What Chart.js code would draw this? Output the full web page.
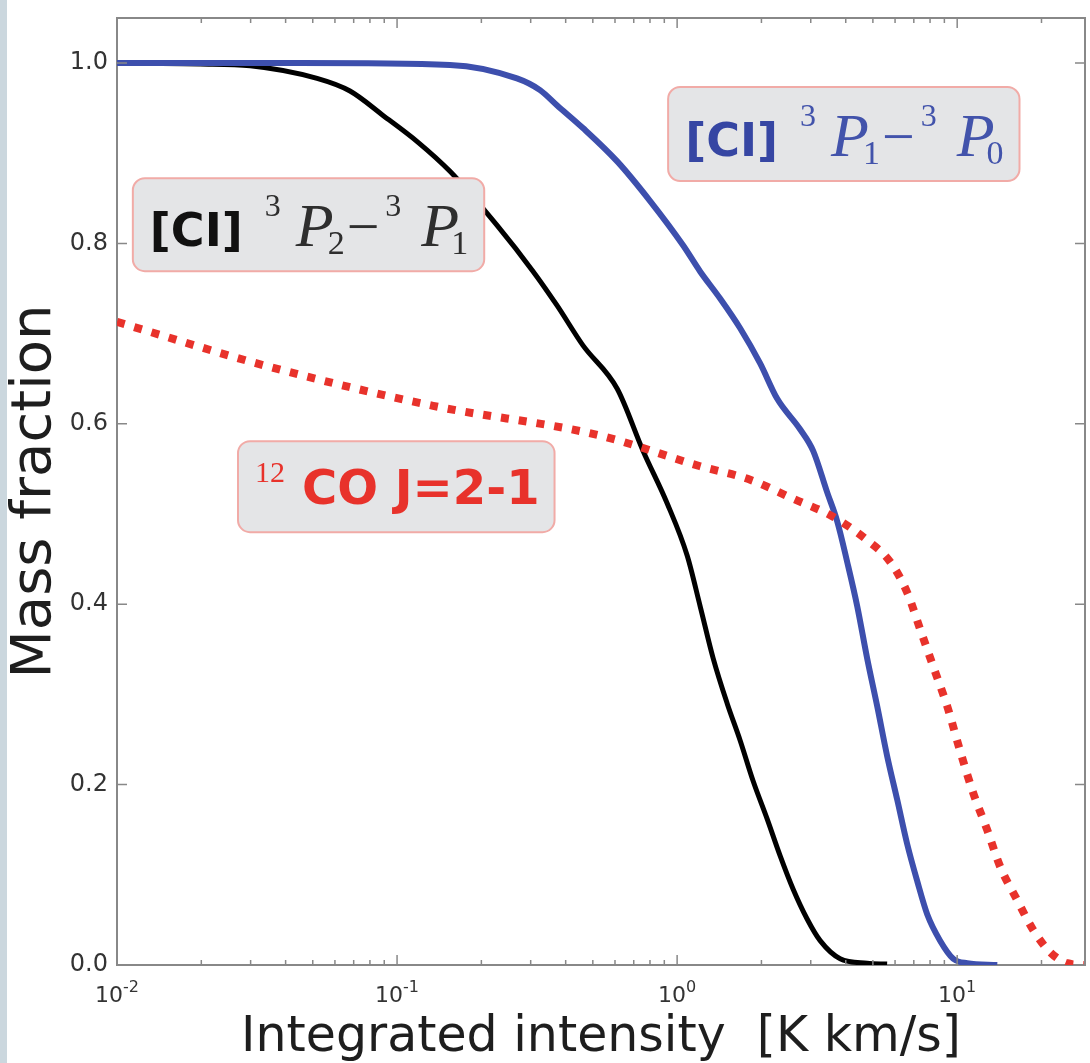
<!DOCTYPE html>
<html>
<head>
<meta charset="utf-8">
<script src="https://cdn.jsdelivr.net/npm/chart.js@4.4.1/dist/chart.umd.min.js"></script>
<style>
  html, body { margin: 0; padding: 0; background: #fff; }
  #wrap { position: relative; width: 1090px; height: 1063px; }
  #strip { position: absolute; left: 0; top: 0; width: 7px; height: 1063px; background: #cbd7de; }
  canvas { position: absolute; left: 0; top: 0; }
</style>
</head>
<body>
<div id="wrap">
  <canvas id="massChart" width="1090" height="1063"></canvas>
  <div id="strip"></div>
</div>
<script>
// [CI] 3P2-3P1 (black)
const ci21X = [0.01, 0.0198, 0.0299, 0.0518, 0.0679, 0.0891, 0.118, 0.1545, 0.2276, 0.306, 0.373, 0.461, 0.611, 0.756, 0.921, 1.086, 1.208, 1.345, 1.509, 1.679, 1.868, 2.096, 2.333, 2.596, 2.912, 3.241, 3.82, 4.77, 5.62];
const ci21Y = [1.0, 0.999, 0.997, 0.983, 0.969, 0.942, 0.913, 0.88, 0.82, 0.769, 0.731, 0.687, 0.639, 0.570, 0.512, 0.454, 0.398, 0.340, 0.290, 0.249, 0.204, 0.162, 0.121, 0.084, 0.051, 0.027, 0.007, 0.002, 0.001];

// [CI] 3P1-3P0 (blue)
const ci10X = [0.01, 0.0451, 0.1545, 0.268, 0.324, 0.373, 0.461, 0.611, 0.801, 1.05, 1.208, 1.424, 1.679, 1.979, 2.275, 2.748, 3.06, 3.434, 3.728, 4.047, 4.395, 4.77, 5.18, 5.62, 6.11, 6.63, 7.20, 7.82, 8.69, 9.68, 10.86, 13.9];
const ci10Y = [1.0, 1.0, 0.998, 0.983, 0.97, 0.953, 0.928, 0.891, 0.847, 0.798, 0.769, 0.739, 0.706, 0.667, 0.628, 0.594, 0.570, 0.524, 0.492, 0.447, 0.398, 0.340, 0.287, 0.232, 0.183, 0.134, 0.093, 0.056, 0.027, 0.007, 0.002, 0.0];

// 12CO J=2-1 (red dotted)
const coX = [0.01, 0.0343, 0.1345, 0.531, 1.208, 1.823, 2.596, 3.606, 4.77, 5.765, 6.63, 7.38, 8.21, 9.21, 10.25, 11.40, 12.79, 14.24, 16.37, 18.67, 21.5, 24.7, 28.5];
const coY = [0.713, 0.664, 0.620, 0.587, 0.553, 0.538, 0.517, 0.497, 0.471, 0.447, 0.413, 0.372, 0.331, 0.287, 0.237, 0.191, 0.150, 0.109, 0.072, 0.039, 0.014, 0.002, 0.0];

const xMajorTicks = [0.01, 0.1, 1, 10];
const xTickBase = ['10', '10', '10', '10'];
const xTickExp = ['-2', '-1', '0', '1'];
const yTicks = [0, 0.2, 0.4, 0.6, 0.8, 1.0];
const yTickLabels = ['0.0', '0.2', '0.4', '0.6', '0.8', '1.0'];

const X_MIN = 0.01, X_MAX = 28.6;
const xMinorTicks = [];
for (let k = -2; k <= 1; k++) {
  for (let m = 2; m <= 9; m++) {
    const v = m * Math.pow(10, k);
    if (v < X_MAX) xMinorTicks.push(v);
  }
}

const BLACK = '#000000', BLUE = '#3d4fad', RED = '#e8322b';
const SANS = "'DejaVu Sans', sans-serif";
const SERIF = "'Liberation Serif', serif";

function pts(xs, ys) { return xs.map((v, i) => ({ x: v, y: ys[i] })); }

// math-style label pieces
function transition(color, boldColor, up, low) {
  return [
    { text: '[CI]', font: 'bold 46px ' + SANS, color: boldColor, gap: 0, dy: 0 },
    { text: '3', font: '32px ' + SERIF, color, gap: 22, dy: -30 },
    { text: 'P', font: 'italic 62px ' + SERIF, color, gap: 15, dy: 0 },
    { text: up, font: '34px ' + SERIF, color, gap: -6, dy: 8 },
    { text: '\u2212', font: '58px ' + SERIF, color, gap: 2, dy: 0 },
    { text: '3', font: '32px ' + SERIF, color, gap: 6, dy: -30 },
    { text: 'P', font: 'italic 62px ' + SERIF, color, gap: 20, dy: 0 },
    { text: low, font: '34px ' + SERIF, color, gap: -8, dy: 8 }
  ];
}

const labels = [
  { x: 0.0131, y: 0.797, pad: [17, 16, 68, 25], runs: transition('#2e2e2e', '#111111', '2', '1') },
  { x: 1.068, y: 0.897, pad: [17, 16, 69, 25], runs: transition('#4253ab', '#3646a3', '1', '0') },
  { x: 0.0311, y: 0.511, pad: [17, 15, 63, 28], runs: [
    { text: '12', font: '30px ' + SERIF, color: RED, gap: 0, dy: -22 },
    { text: 'CO J=2-1', font: 'bold 48px ' + SANS, color: RED, gap: 17, dy: 0 }
  ] }
];

const frameTicks = {
  id: 'frameTicks',
  afterDatasetsDraw(chart) {
    const { ctx, chartArea: a, scales: { x, y } } = chart;
    ctx.save();
    ctx.strokeStyle = '#888888';
    ctx.lineWidth = 2;
    ctx.beginPath();
    ctx.moveTo(a.left, a.top);
    ctx.lineTo(a.right, a.top);
    ctx.lineTo(a.right, a.bottom);
    ctx.stroke();
    ctx.lineWidth = 1.5;
    ctx.beginPath();
    yTicks.forEach(v => {
      const py = y.getPixelForValue(v);
      ctx.moveTo(a.left, py); ctx.lineTo(a.left + 10, py);
      ctx.moveTo(a.right, py); ctx.lineTo(a.right - 10, py);
    });
    xMajorTicks.forEach(v => {
      const px = x.getPixelForValue(v);
      ctx.moveTo(px, a.bottom); ctx.lineTo(px, a.bottom - 10);
      ctx.moveTo(px, a.top); ctx.lineTo(px, a.top + 10);
    });
    xMinorTicks.forEach(v => {
      const px = x.getPixelForValue(v);
      ctx.moveTo(px, a.bottom); ctx.lineTo(px, a.bottom - 5);
      ctx.moveTo(px, a.top); ctx.lineTo(px, a.top + 5);
    });
    ctx.stroke();

    // x tick labels as 10^n
    ctx.fillStyle = '#333333';
    ctx.textBaseline = 'alphabetic';
    ctx.textAlign = 'left';
    xMajorTicks.forEach((v, i) => {
      const px = x.getPixelForValue(v);
      ctx.font = '22px ' + SANS;
      const wb = ctx.measureText(xTickBase[i]).width;
      ctx.font = '16px ' + SANS;
      const we = ctx.measureText(xTickExp[i]).width;
      const left = px - (wb + we) / 2;
      const base = a.bottom + 37;
      ctx.font = '22px ' + SANS;
      ctx.fillText(xTickBase[i], left, base);
      ctx.font = '16px ' + SANS;
      ctx.fillText(xTickExp[i], left + wb, base - 10);
    });
    ctx.restore();
  }
};

const labelBoxes = {
  id: 'labelBoxes',
  afterDatasetsDraw(chart) {
    const { ctx, scales: { x, y } } = chart;
    ctx.save();
    ctx.textBaseline = 'alphabetic';
    ctx.textAlign = 'left';
    labels.forEach(lb => {
      const x0 = x.getPixelForValue(lb.x);
      const base = y.getPixelForValue(lb.y);
      let cx = x0;
      const placed = lb.runs.map(r => {
        ctx.font = r.font;
        cx += r.gap;
        const p = { ...r, px: cx };
        cx += ctx.measureText(r.text).width;
        return p;
      });
      const [pl, pr, pt, pb] = lb.pad;
      ctx.beginPath();
      ctx.roundRect(x0 - pl, base - pt, cx - x0 + pl + pr, pt + pb, 12);
      ctx.fillStyle = '#e4e5e7';
      ctx.fill();
      ctx.lineWidth = 2;
      ctx.strokeStyle = '#f1aba7';
      ctx.stroke();
      placed.forEach(p => {
        ctx.font = p.font;
        ctx.fillStyle = p.color;
        ctx.fillText(p.text, p.px, base + p.dy);
      });
    });
    ctx.restore();
  }
};

Chart.defaults.font.family = SANS;

new Chart(document.getElementById('massChart'), {
  type: 'line',
  data: {
    datasets: [
      { label: '12CO J=2-1', data: pts(coX, coY), borderColor: RED, borderWidth: 8, borderDash: [8, 10], borderCapStyle: 'butt', order: 0 },
      { label: '[CI] 3P1-3P0', data: pts(ci10X, ci10Y), borderColor: BLUE, borderWidth: 6, order: 1 },
      { label: '[CI] 3P2-3P1', data: pts(ci21X, ci21Y), borderColor: BLACK, borderWidth: 5, order: 2 }
    ]
  },
  options: {
    responsive: false,
    animation: false,
    devicePixelRatio: 1,
    layout: { padding: { left: 0, top: 18, right: 5, bottom: 0 } },
    elements: {
      point: { radius: 0 },
      line: { cubicInterpolationMode: 'monotone', fill: false }
    },
    plugins: { legend: { display: false }, tooltip: { enabled: false } },
    scales: {
      x: {
        type: 'logarithmic',
        min: X_MIN,
        max: X_MAX,
        grid: { display: false, drawTicks: false },
        border: { display: true, color: '#888888', width: 2 },
        ticks: { display: false },
        afterBuildTicks: s => { s.ticks = xMajorTicks.map(v => ({ value: v })); },
        afterFit: s => { s.height = 98; s.paddingLeft = 0; s.paddingRight = 0; },
        title: {
          display: true, text: 'Integrated intensity  [K km/s]', color: '#1e1e1e',
          font: { size: 49, lineHeight: 1 }, padding: { top: 0, bottom: 0 }
        }
      },
      y: {
        type: 'linear',
        min: 0,
        max: 1.05,
        grid: { display: false, drawTicks: false },
        border: { display: true, color: '#888888', width: 2 },
        ticks: {
          padding: 9, color: '#333333',
          font: { size: 24 },
          callback: (v, i) => yTickLabels[i]
        },
        afterBuildTicks: s => { s.ticks = yTicks.map(v => ({ value: v })); },
        afterFit: s => { s.width = 117; s.paddingTop = 0; s.paddingBottom = 0; },
        title: {
          display: true, text: 'Mass fraction', color: '#1e1e1e',
          font: { size: 56, lineHeight: 1 }, padding: { top: 7, bottom: 0 }
        }
      }
    }
  },
  plugins: [frameTicks, labelBoxes]
});
</script>
</body>
</html>
